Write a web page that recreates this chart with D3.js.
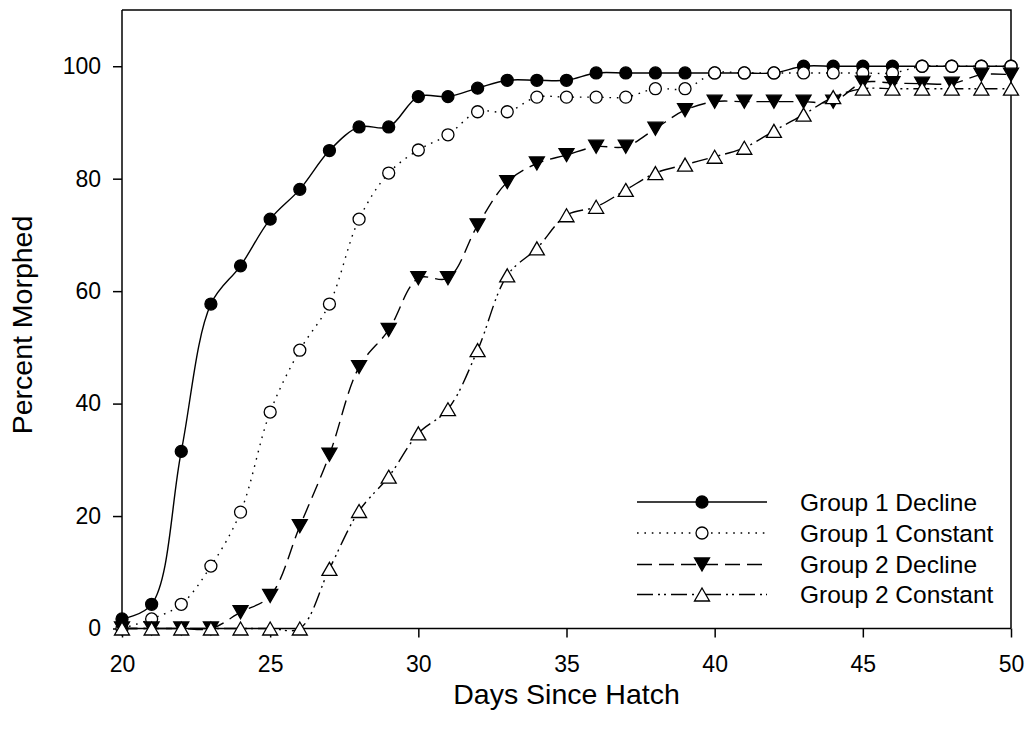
<!DOCTYPE html>
<html lang="en">
<head>
    <meta charset="UTF-8">
    <title>Percent Morphed vs Days Since Hatch</title>
    <style>
        body {
            margin: 0;
            background: #fff;
            font-family: Arial, "Liberation Sans", Helvetica, sans-serif;
        }

        .axis path, .axis line {
            stroke: #000;
            stroke-width: 1.5px;
        }

        .axis text {
            font-family: Arial, "Liberation Sans", sans-serif;
            font-size: 23px;
            fill: #000;
        }

        .line {
            fill: none;
            stroke: #000;
            stroke-width: 1.4px;
        }
    </style>
</head>

<body>
    <div id="content"></div>
    <script src="https://d3js.org/d3.v7.min.js"></script>
    <script>

        // days since hatch (x)
        var days = [20, 21, 22, 23, 24, 25, 26, 27, 28, 29, 30, 31, 32, 33, 34, 35,
            36, 37, 38, 39, 40, 41, 42, 43, 44, 45, 46, 47, 48, 49, 50];

        // percent morphed, one array per group
        var group1Decline = [1.7, 4.3, 31.5, 57.7, 64.5, 72.8, 78.1, 85.0, 89.2, 89.2, 94.6, 94.6, 96.1,
            97.5, 97.5, 97.5, 98.8, 98.8, 98.8, 98.8, 98.8, 98.8, 98.8, 100, 100, 100, 100, 100, 100, 100, 100];
        var group1Constant = [0, 1.7, 4.3, 11.1, 20.7, 38.5, 49.5, 57.7, 72.8, 81.0, 85.1, 87.8, 91.9,
            91.9, 94.5, 94.5, 94.5, 94.5, 96.0, 96.0, 98.8, 98.8, 98.8, 98.8, 98.8, 98.8, 98.8, 100, 100, 100, 100];
        var group2Decline = [0, 0, 0, 0, 2.9, 5.8, 18.2, 30.9, 46.5, 53.1, 62.3, 62.3, 71.7,
            79.4, 82.7, 84.2, 85.7, 85.7, 88.9, 92.2, 93.7, 93.7, 93.7, 93.7, 93.7, 97.1, 97.0, 96.9, 96.9, 98.5, 98.5];
        var group2Constant = [0, 0, 0, 0, 0, 0, 0, 10.6, 20.9, 27.0, 34.7, 39.0, 49.5,
            62.8, 67.6, 73.5, 75.0, 78.0, 81.0, 82.5, 83.9, 85.5, 88.5, 91.4, 94.5, 96.0, 96.0, 96.0, 96.0, 96.0, 96.0];

        var seriesNames = ["Group 1 Decline", "Group 1 Constant", "Group 2 Decline", "Group 2 Constant"];

        var xTicks = [20, 25, 30, 35, 40, 45, 50];
        var yTicks = [0, 20, 40, 60, 80, 100];

        var series = [
            { name: seriesNames[0], values: group1Decline, symbol: "circle", fill: "#000", dash: null },
            { name: seriesNames[1], values: group1Constant, symbol: "circle", fill: "#fff", dash: "1.6,5.8" },
            { name: seriesNames[2], values: group2Decline, symbol: "down", fill: "#000", dash: "15,7" },
            { name: seriesNames[3], values: group2Constant, symbol: "up", fill: "#fff", dash: "16,5,2,4,2,5" }
        ];

        var width = 1027, height = 735;
        var plot = { left: 122, right: 1011, top: 10, bottom: 628.5 };

        var svg = d3.select("#content").append("svg")
            .attr("width", width)
            .attr("height", height);

        var x = d3.scaleLinear().domain([20, 50]).range([plot.left, plot.right]);
        var y = d3.scaleLinear().domain([0, 110]).range([plot.bottom, plot.top]);

        // frame (top and right)
        svg.append("path")
            .attr("d", "M" + plot.left + "," + plot.top + "H" + plot.right + "V" + plot.bottom)
            .attr("fill", "none")
            .attr("stroke", "#000")
            .attr("stroke-width", 1.5);

        svg.append("g")
            .attr("class", "axis axis--x")
            .attr("transform", "translate(0," + plot.bottom + ")")
            .call(d3.axisBottom(x).tickValues(xTicks).tickSize(9).tickSizeOuter(0).tickPadding(18));

        svg.append("g")
            .attr("class", "axis axis--y")
            .attr("transform", "translate(" + plot.left + ",0)")
            .call(d3.axisLeft(y).tickValues(yTicks).tickSize(9).tickSizeOuter(0).tickPadding(12));

        svg.selectAll(".axis path.domain")
            .attr("d", function () {
                return d3.select(this.parentNode).classed("axis--x")
                    ? "M" + plot.left + ",0H" + plot.right
                    : "M0," + plot.top + "V" + plot.bottom;
            });

        // axis titles
        svg.append("text")
            .attr("x", (plot.left + plot.right) / 2)
            .attr("y", 704)
            .attr("text-anchor", "middle")
            .style("font-size", "28.5px")
            .text("Days Since Hatch");

        svg.append("text")
            .attr("transform", "translate(32,325) rotate(-90)")
            .attr("text-anchor", "middle")
            .style("font-size", "28.5px")
            .text("Percent Morphed");

        var line = d3.line()
            .curve(d3.curveCatmullRom)
            .x(function (d) { return x(d[0]); })
            .y(function (d) { return y(d[1]); });

        function drawSymbol(g, kind, fill, cx, cy) {
            if (kind === "circle") {
                g.append("circle")
                    .attr("cx", cx).attr("cy", cy).attr("r", 6)
                    .attr("fill", fill).attr("stroke", "#000").attr("stroke-width", 1.3);
            } else {
                var w = 7.5, h = 6.5, s = kind === "up" ? 1 : -1;
                g.append("path")
                    .attr("d", "M" + cx + "," + (cy - s * h) + "L" + (cx + w) + "," + (cy + s * h) +
                        "L" + (cx - w) + "," + (cy + s * h) + "Z")
                    .attr("fill", fill).attr("stroke", "#000").attr("stroke-width", 1.3)
                    .attr("stroke-linejoin", "miter");
            }
        }

        series.forEach(function (s) {
            var pts = days.map(function (d, i) { return [d, s.values[i]]; });
            var g = svg.append("g");
            g.append("path")
                .datum(pts)
                .attr("class", "line")
                .attr("stroke-dasharray", s.dash)
                .attr("d", line);
            pts.forEach(function (p) {
                drawSymbol(g, s.symbol, s.fill, x(p[0]), y(p[1]));
            });
        });

        // legend
        var legendRows = [502, 533, 564.5, 594.5];
        var legend = svg.append("g");
        series.forEach(function (s, i) {
            var ly = legendRows[i];
            legend.append("line")
                .attr("class", "line")
                .attr("x1", 637).attr("x2", 767)
                .attr("y1", ly).attr("y2", ly)
                .attr("stroke-dasharray", s.dash);
            drawSymbol(legend, s.symbol, s.fill, 702, ly);
            legend.append("text")
                .attr("x", 800)
                .attr("y", ly)
                .attr("dy", "0.36em")
                .style("font-size", "24.5px")
                .text(s.name);
        });
    </script>
</body>

</html>
